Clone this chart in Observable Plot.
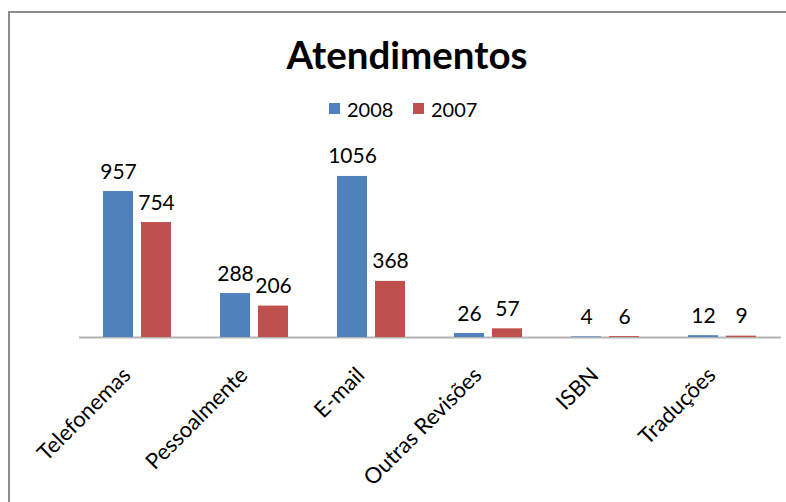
<!DOCTYPE html>
<html><head><meta charset="utf-8">
<script src="https://cdn.jsdelivr.net/npm/d3@7"></script>
<script src="https://cdn.jsdelivr.net/npm/@observablehq/plot@0.6"></script>
<style>
body{margin:0;width:786px;height:502px;overflow:hidden;position:relative;background:#fff;font-family:Lato,sans-serif;color:#000}
#frame{position:absolute;left:8px;top:11px;width:900px;height:600px;border:2px solid #8c8c8c;box-sizing:border-box}
#title{position:absolute;left:0;top:35px;width:814px;text-align:center;font-size:38.5px;font-weight:bold;line-height:38px}
#legend{position:absolute;left:0;top:0}
.sw{position:absolute;width:11px;height:11px}
.lt{position:absolute;font-size:20px;line-height:20px;white-space:nowrap}
#chart{position:absolute;left:0;top:130px}
</style></head>
<body>
<div id="frame"></div>
<div id="title">Atendimentos</div>
<div id="legend"></div>
<div id="chart"></div>
<script>
const categories = ["Telefonemas","Pessoalmente","E-mail","Outras Revisões","ISBN","Traduções"];
const series = ["2008","2007"];
const values2008 = [957,288,1056,26,4,12];
const values2007 = [754,206,368,57,6,9];
const colors = ["#4f81bd","#c0504d"];

const data = categories.flatMap((c,i)=>[
  {cat:c, series:series[0], value:values2008[i]},
  {cat:c, series:series[1], value:values2007[i]}
]);

// legend
const legend = document.getElementById("legend");
const legX = [329, 413];
series.forEach((s,i)=>{
  const sw = document.createElement("div");
  sw.className="sw"; sw.style.left=legX[i]+"px"; sw.style.top="103px"; sw.style.background=colors[i];
  legend.appendChild(sw);
  const t = document.createElement("div");
  t.className="lt"; t.style.left=(legX[i]+18)+"px"; t.style.top="99px"; t.textContent=s;
  legend.appendChild(t);
});

const chart = Plot.plot({
  width:786, height:372,
  marginLeft:77, marginRight:4, marginTop:24, marginBottom:165,
  fx:{domain:categories, padding:0, axis:null},
  x:{domain:series, paddingInner:0.205, paddingOuter:0.609, axis:null},
  y:{domain:[0,1200], axis:null},
  color:{domain:series, range:colors},
  style:{fontFamily:"Lato, sans-serif", fontSize:"20px", background:"transparent", overflow:"visible"},
  marks:[
    Plot.ruleY([0],{stroke:"#b3b3b3", strokeWidth:2}),
    Plot.barY(data,{fx:"cat", x:"series", y:"value", fill:"series"}),
    Plot.text(data,{fx:"cat", x:"series", y:"value", text:d=>String(d.value), lineAnchor:"bottom", dy:-13, fill:"#000", fontSize:21}),
    Plot.text(categories,{fx:d=>d, y:()=>0, text:d=>d, rotate:-45, textAnchor:"end", lineAnchor:"bottom", dx:-6, dy:39, fill:"#000", fontSize:22})
  ]
});
document.getElementById("chart").appendChild(chart);
</script>
</body></html>
